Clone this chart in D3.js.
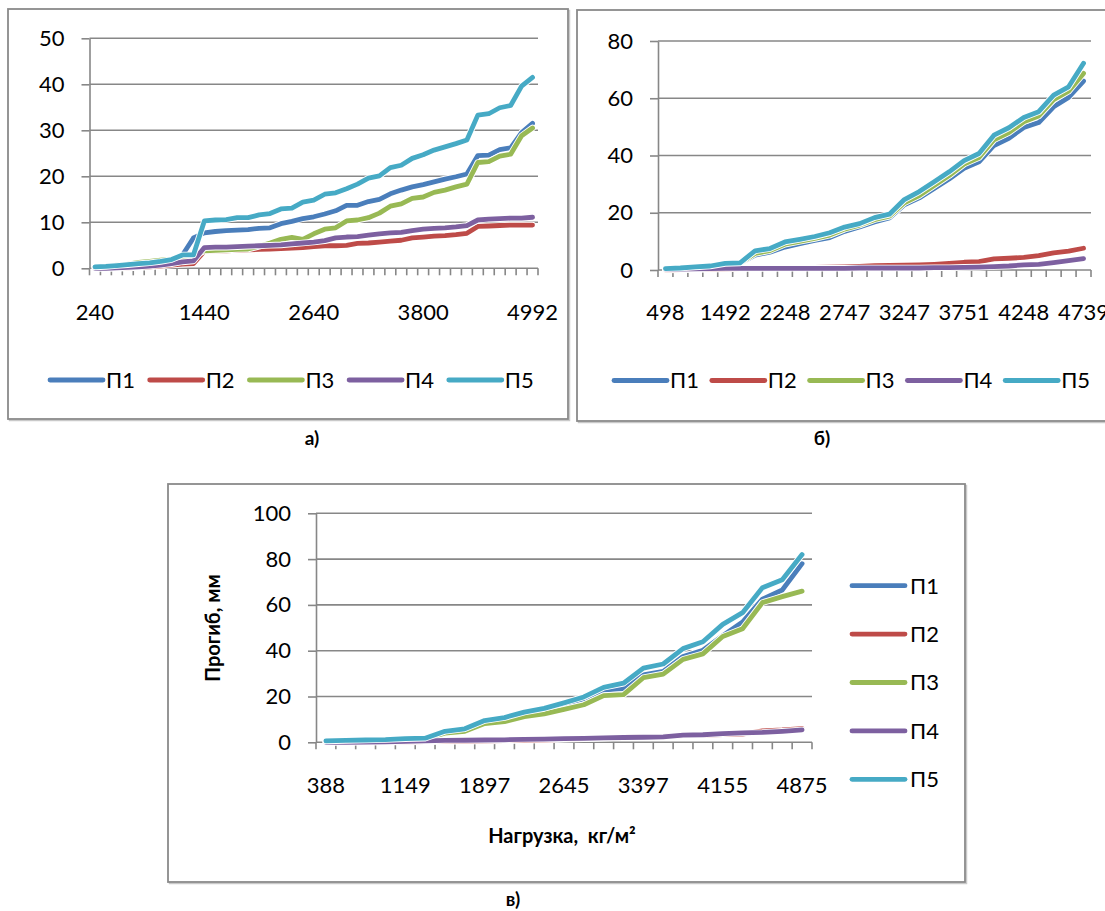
<!DOCTYPE html>
<html>
<head>
<meta charset="utf-8">
<script src="https://cdn.jsdelivr.net/npm/d3@7"></script>
<style>
  html, body { margin: 0; padding: 0; background: #fff; }
  svg { display: block; }
  text { font-family: Lato, "Open Sans", "Noto Sans", sans-serif; }
</style>
</head>
<body>
<svg id="fig" width="1105" height="911"></svg>
<script>
// ---- Chart а) : load categories and deflection series ----
const loadA = [240, 360, 480, 600, 720, 840, 960, 1080, 1200, 1320,
  1440, 1560, 1680, 1800, 1920, 2040, 2160, 2280, 2400, 2520,
  2640, 2760, 2880, 3000, 3120, 3240, 3360, 3480, 3600, 3720,
  3800, 3920, 4040, 4160, 4280, 4400, 4520, 4640, 4760, 4880, 4992];
const aP1 = [0.2, 0.3, 0.5, 0.7, 0.9, 1.1, 1.3, 1.7, 2.9, 6.6,
  7.7, 8.0, 8.2, 8.3, 8.4, 8.7, 8.8, 9.7, 10.2, 10.8,
  11.2, 11.8, 12.5, 13.7, 13.7, 14.5, 15.0, 16.2, 17.0, 17.7,
  18.2, 18.8, 19.4, 19.9, 20.5, 24.5, 24.6, 25.8, 26.2, 29.5, 31.5];
const aP2 = [0.0, 0.0, 0.0, 0.1, 0.2, 0.3, 0.5, 0.7, 0.9, 1.0,
  3.7, 3.8, 3.8, 3.9, 4.0, 4.1, 4.2, 4.3, 4.4, 4.5,
  4.7, 4.9, 4.9, 5.0, 5.4, 5.5, 5.7, 5.9, 6.1, 6.6,
  6.8, 7.0, 7.1, 7.3, 7.6, 9.1, 9.2, 9.3, 9.4, 9.4, 9.4];
const aP3 = [0.3, 0.4, 0.7, 0.9, 1.3, 1.5, 1.8, 2.0, 2.3, 2.6,
  3.8, 3.9, 4.0, 4.1, 4.2, 4.8, 5.5, 6.3, 6.7, 6.3,
  7.5, 8.5, 8.8, 10.3, 10.5, 11.0, 12.0, 13.5, 14.0, 15.2,
  15.5, 16.5, 17.0, 17.7, 18.3, 23.0, 23.2, 24.4, 24.8, 28.8, 30.5];
const aP4 = [0.0, 0.0, 0.1, 0.2, 0.3, 0.5, 0.7, 1.0, 1.4, 1.6,
  4.5, 4.6, 4.6, 4.7, 4.8, 4.9, 5.0, 5.1, 5.3, 5.5,
  5.7, 6.0, 6.6, 6.8, 6.9, 7.2, 7.5, 7.7, 7.8, 8.2,
  8.5, 8.7, 8.8, 9.0, 9.3, 10.5, 10.7, 10.8, 10.9, 10.9, 11.1];
const aP5 = [0.3, 0.4, 0.6, 0.8, 1.0, 1.2, 1.5, 1.9, 2.9, 2.9,
  10.3, 10.5, 10.6, 11.0, 11.0, 11.6, 11.9, 12.9, 13.1, 14.4,
  14.8, 16.1, 16.4, 17.3, 18.3, 19.6, 20.1, 21.9, 22.4, 23.9,
  24.7, 25.7, 26.4, 27.1, 27.9, 33.3, 33.6, 34.9, 35.4, 39.6, 41.5];

// ---- Chart б) ----
const loadB = [498, 747, 995, 1243, 1492, 1681, 1870, 2059, 2248, 2373,
  2498, 2622, 2747, 2872, 2997, 3122, 3247, 3373, 3499, 3625,
  3751, 3875, 3999, 4124, 4248, 4371, 4494, 4616, 4739];
const bP1 = [0.4, 0.6, 1.0, 1.3, 2.0, 2.3, 5.2, 6.2, 8.0, 9.2,
  10.3, 11.3, 13.5, 15.0, 16.8, 18.2, 22.8, 25.2, 28.5, 31.8,
  35.5, 37.8, 43.5, 46.0, 49.8, 51.5, 57.0, 60.3, 66.0];
const bP2 = [0.0, 0.1, 0.2, 0.3, 0.4, 0.5, 0.6, 0.6, 0.7, 0.8,
  0.9, 1.0, 1.1, 1.3, 1.5, 1.6, 1.7, 1.8, 2.0, 2.3,
  2.7, 2.9, 3.9, 4.1, 4.4, 5.0, 6.0, 6.6, 7.6];
const bP3 = [0.5, 0.7, 1.0, 1.3, 2.1, 2.4, 5.8, 6.8, 9.0, 10.0,
  11.0, 12.2, 14.3, 15.7, 17.6, 18.8, 23.5, 26.0, 29.5, 33.0,
  37.0, 39.3, 45.5, 48.0, 51.8, 53.8, 59.5, 62.5, 68.7];
const bP4 = [0.2, 0.3, 0.4, 0.5, 0.6, 0.6, 0.6, 0.6, 0.6, 0.6,
  0.6, 0.6, 0.6, 0.7, 0.7, 0.7, 0.7, 0.7, 0.8, 0.8,
  0.9, 1.0, 1.2, 1.4, 1.8, 2.0, 2.6, 3.3, 4.0];
const bP5 = [0.5, 0.7, 1.1, 1.4, 2.3, 2.5, 6.7, 7.5, 9.8, 10.7,
  11.7, 13.0, 15.0, 16.2, 18.3, 19.5, 24.6, 27.4, 30.8, 34.3,
  38.2, 40.7, 47.1, 49.7, 53.3, 55.3, 61.1, 64.0, 72.2];

// ---- Chart в) ----
const loadC = [388, 578, 768, 958, 1149, 1336, 1523, 1710, 1897, 2084,
  2271, 2458, 2645, 2833, 3021, 3209, 3397, 3587, 3777, 3967,
  4155, 4335, 4515, 4695, 4875];
const cP1 = [0.5, 0.7, 0.9, 1.1, 1.5, 1.7, 4.4, 5.4, 9.0, 10.2,
  12.6, 14.0, 16.4, 19.0, 22.8, 23.5, 29.5, 31.0, 37.5, 40.2,
  46.5, 52.5, 62.5, 66.5, 78.0];
const cP2 = [0.0, 0.0, 0.1, 0.1, 0.2, 0.3, 0.4, 0.5, 0.6, 0.7,
  0.9, 1.0, 1.3, 1.6, 1.9, 2.1, 2.4, 2.6, 2.9, 3.1,
  3.4, 3.6, 5.0, 5.4, 6.0];
const cP3 = [0.5, 0.6, 0.8, 1.0, 1.4, 1.6, 4.0, 4.8, 8.2, 9.0,
  11.2, 12.4, 14.4, 16.4, 20.4, 20.8, 28.2, 29.8, 36.2, 38.6,
  46.2, 49.6, 61.0, 63.6, 66.0];
const cP4 = [0.0, 0.0, 0.1, 0.2, 0.4, 0.6, 0.8, 0.9, 1.0, 1.1,
  1.3, 1.4, 1.6, 1.7, 1.9, 2.1, 2.2, 2.4, 3.1, 3.3,
  3.8, 4.1, 4.3, 4.8, 5.4];
const cP5 = [0.6, 0.8, 1.0, 1.2, 1.6, 1.8, 4.8, 5.9, 9.5, 10.8,
  13.2, 14.8, 17.2, 19.8, 24.0, 25.8, 32.4, 34.2, 40.9, 43.9,
  51.5, 56.6, 67.5, 71.0, 82.0];

const seriesNames = ["П1", "П2", "П3", "П4", "П5"];
const seriesColors = ["#4a7ebb", "#be4b48", "#98b954", "#7d60a0", "#46aac5"];

const svg = d3.select("#fig");
const GRID = "#878787";

// Frames around each chart
function frame(x, y, w, h) {
  svg.append("rect").attr("x", x + 1.5).attr("y", y + 1.5).attr("width", w).attr("height", h)
    .attr("fill", "none").attr("stroke", "#c9c9c9").attr("stroke-width", 1.5);
  svg.append("rect").attr("x", x).attr("y", y).attr("width", w).attr("height", h)
    .attr("fill", "#fff").attr("stroke", "#8a8a8a").attr("stroke-width", 1.8);
}
frame(8, 9, 560, 410);
frame(577, 10, 560, 411);
frame(168, 484, 797, 398);

function drawChart(opt) {
  const { cats, series, x0, x1, yTop, yBottom, yMax, yStep, labelEvery, labelGap } = opt;
  const g = svg.append("g");
  const x = d3.scaleBand().domain(d3.range(cats.length)).range([x0, x1]).padding(0);
  const y = d3.scaleLinear().domain([0, yMax]).range([yBottom, yTop]);
  const yTicks = d3.range(0, yMax + 0.001, yStep);

  // horizontal gridlines
  g.append("g").selectAll("line").data(yTicks.filter(d => d > 0)).join("line")
    .attr("x1", x0).attr("x2", x1).attr("y1", d => y(d)).attr("y2", d => y(d))
    .attr("stroke", GRID).attr("stroke-width", 1.6);

  // value axis
  const ya = g.append("g").attr("transform", `translate(${x0},0)`)
    .call(d3.axisLeft(y).tickValues(yTicks).tickSize(8).tickPadding(17).tickSizeOuter(0));
  ya.select(".domain").attr("stroke", GRID).attr("stroke-width", 1.6);
  ya.selectAll(".tick line").attr("stroke", GRID).attr("stroke-width", 1.6);
  ya.selectAll(".tick text").attr("font-size", 22).attr("fill", "#000")
    .attr("font-family", "Lato, 'Open Sans', sans-serif");

  // category axis: labels
  const xa = g.append("g").attr("transform", `translate(0,${yBottom})`)
    .call(d3.axisBottom(x).tickValues(d3.range(0, cats.length, labelEvery))
      .tickFormat(i => cats[i]).tickSize(0).tickPadding(labelGap).tickSizeOuter(0));
  xa.select(".domain").remove();
  xa.selectAll(".tick text").attr("font-size", 22).attr("fill", "#000")
    .attr("font-family", "Lato, 'Open Sans', sans-serif");

  // category axis: line and tick marks between categories
  g.append("line").attr("x1", x0).attr("x2", x1).attr("y1", yBottom).attr("y2", yBottom)
    .attr("stroke", GRID).attr("stroke-width", 1.6);
  const bounds = d3.range(cats.length + 1).map(i => i < cats.length ? x(i) : x1);
  g.append("g").selectAll("line").data(bounds).join("line")
    .attr("x1", d => d).attr("x2", d => d).attr("y1", yBottom).attr("y2", yBottom + 7)
    .attr("stroke", GRID).attr("stroke-width", 1.6);

  // series lines
  const line = d3.line().x((d, i) => x(i) + x.bandwidth() / 2).y(d => y(d));
  series.forEach((s, k) => {
    g.append("path").attr("d", line(s)).attr("fill", "none")
      .attr("stroke", "#ffffff").attr("stroke-width", 6.6)
      .attr("stroke-linejoin", "round").attr("stroke-linecap", "round");
    g.append("path").attr("d", line(s)).attr("fill", "none")
      .attr("stroke", seriesColors[k]).attr("stroke-width", 4.8)
      .attr("stroke-linejoin", "round").attr("stroke-linecap", "round");
  });
  return { x, y };
}

drawChart({ cats: loadA, series: [aP1, aP2, aP3, aP4, aP5],
  x0: 89.5, x1: 538, yTop: 38.3, yBottom: 268.3, yMax: 50, yStep: 10, labelEvery: 10, labelGap: 36 });
drawChart({ cats: loadB, series: [bP1, bP2, bP3, bP4, bP5],
  x0: 658, x1: 1091, yTop: 41, yBottom: 270, yMax: 80, yStep: 20, labelEvery: 4, labelGap: 34 });
drawChart({ cats: loadC, series: [cP1, cP2, cP3, cP4, cP5],
  x0: 316, x1: 812, yTop: 513.3, yBottom: 742.3, yMax: 100, yStep: 20, labelEvery: 4, labelGap: 35 });

// Horizontal legends (charts а and б)
function hLegend(startX, step, cy) {
  const lg = svg.append("g");
  seriesNames.forEach((name, k) => {
    const lx = startX + k * step;
    lg.append("line").attr("x1", lx).attr("x2", lx + 53).attr("y1", cy).attr("y2", cy)
      .attr("stroke", seriesColors[k]).attr("stroke-width", 4.8).attr("stroke-linecap", "round");
    lg.append("text").attr("x", lx + 56).attr("y", cy).attr("dy", "0.36em")
      .attr("font-size", 22).text(name);
  });
}
hLegend(50, 99.7, 380);
hLegend(614, 97.8, 380.5);

// Vertical legend (chart в)
const lgc = svg.append("g");
seriesNames.forEach((name, k) => {
  const cy = 585.7 + k * 48.4;
  lgc.append("line").attr("x1", 852).attr("x2", 905).attr("y1", cy).attr("y2", cy)
    .attr("stroke", seriesColors[k]).attr("stroke-width", 4.8).attr("stroke-linecap", "round");
  lgc.append("text").attr("x", 910).attr("y", cy).attr("dy", "0.36em")
    .attr("font-size", 22).text(name);
});

// Axis titles of chart в
svg.append("text").attr("transform", "translate(220,628) rotate(-90)")
  .attr("text-anchor", "middle").attr("font-weight", "bold").attr("font-size", 20)
  .text("Прогиб, мм");
svg.append("text").attr("x", 562).attr("y", 836).attr("dy", "0.36em")
  .attr("text-anchor", "middle").attr("font-weight", "bold").attr("font-size", 20)
  .style("white-space", "pre").text("Нагрузка,  кг/м²");

// Captions
[["а)", 312, 438], ["б)", 822, 438], ["в)", 513, 899]].forEach(([t, cx, cy]) => {
  svg.append("text").attr("x", cx).attr("y", cy).attr("dy", "0.36em")
    .attr("text-anchor", "middle").attr("font-weight", "bold").attr("font-size", 19).text(t);
});
</script>
</body>
</html>
